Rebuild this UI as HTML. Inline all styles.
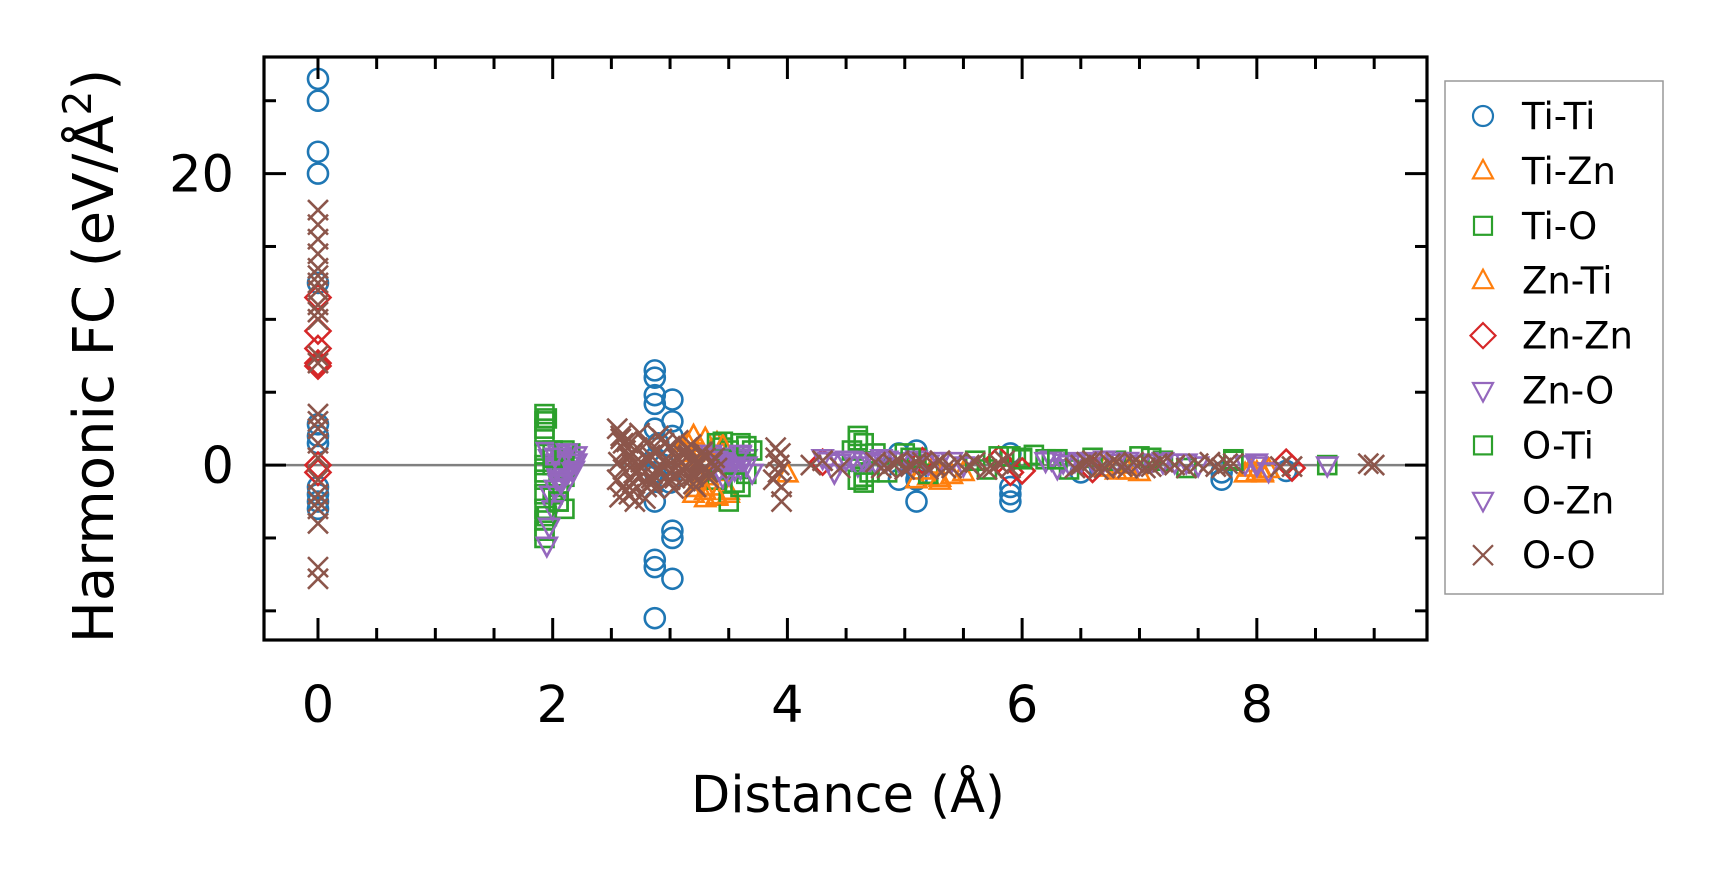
<!DOCTYPE html>
<html><head><meta charset="utf-8"><style>
html,body{margin:0;padding:0;background:#fff;}
svg{display:block;font-family:"DejaVu Sans","Liberation Sans",sans-serif;}
</style></head><body>
<svg id="chart" width="1722" height="883" viewBox="0 0 1722 883" xmlns="http://www.w3.org/2000/svg">
<rect width="1722" height="883" fill="#fff"/>
<g id="marks"></g>
<g id="axes"></g>
<text x="848" y="812" font-size="51" text-anchor="middle">Distance (Å)</text>
<text transform="translate(113,356) rotate(-90)" font-size="56" text-anchor="middle">Harmonic FC (eV/Å<tspan dy="-22" font-size="39">2</tspan><tspan dy="22">)</tspan></text>
<g id="legend"></g>
</svg>
<script>
const seriesNames=["Ti-Ti","Ti-Zn","Ti-O","Zn-Ti","Zn-Zn","Zn-O","O-Ti","O-Zn","O-O"];
const tiTiX=[0,0,0,0,0,0,0,0,0,0,0,0,2.87,2.87,2.87,2.87,2.87,2.87,2.87,2.87,2.87,2.87,2.87,3.02,3.02,3.02,3.02,3.02,3.02,4.95,4.95,5.1,5.1,5.1,5.9,5.9,5.9,5.9,6.5,7.7,7.7,8.25,2.9,3.0,2.95];
const tiTiY=[26.5,25,21.5,20,12.5,2.8,2,1.5,-1.5,-2,-2.5,-3,6.5,6,4.8,4.2,2.5,0.5,-0.5,-2.5,-6.5,-7,-10.5,4.5,3,2,-4.5,-5,-7.8,0.8,-1,1,-1,-2.5,0.8,-1.5,-2,-2.5,-0.5,-1,-0.5,-0.4,1.5,-1.2,0];
const tiZnX=[3.15,3.2,3.25,3.3,3.35,3.4,3.45,3.2,3.3,3.4,3.5,3.25,3.35,5.1,5.2,5.3,5.5,6.8,7.0,8.0,8.1,3.18,3.28,3.38,3.22,3.32,3.42,3.5,5.15,5.25,5.4,6.7,6.9,7.95,8.05];
const tiZnY=[1.5,2,1.2,1.8,1,1.5,0.8,-2,-2.3,-2.2,-1.8,-1,-1.5,-1,-0.8,-1.1,-0.5,-0.4,-0.5,-0.5,-0.3,0.5,0.2,-0.5,-1.6,-0.8,0.4,-2,-0.4,0,-0.7,-0.2,0,-0.2,-0.6];
const tiOX=[1.93,1.93,1.93,1.93,1.93,1.93,1.93,1.93,1.93,1.93,2.0,2.05,2.1,2.15,2.0,3.4,3.45,3.5,3.6,3.7,3.4,3.5,3.6,4.6,4.65,4.6,4.7,5.0,5.2,5.9,6.0,6.1,6.2,6.6,6.8,7.0,7.8,8.6,1.93,1.93,1.93,2.0,2.05,2.1,3.45,3.55,3.65,4.55,4.65,4.75,4.85,5.1,5.6,5.7,6.3,6.4,7.2,7.4];
const tiOY=[3.5,3,2.5,1,0,-1,-2,-3,-4.5,-5,1,-1.5,-3,0.8,-2,1.5,1.2,1,1.5,1,-1,-2.5,-1.5,2,1.5,-1,-0.5,0.8,-0.6,0.6,0.5,0.7,0.4,0.5,0.3,0.6,0.4,0,2,-0.5,-3.8,0,-2.5,-0.8,-0.3,0.2,-0.6,1,-0.8,0.8,-0.5,0.5,0.3,-0.3,0.4,-0.3,0.3,-0.2];
const znTiX=[3.1,3.2,3.3,3.4,3.45,4.0,5.3,5.4,6.9,7.9,8.05];
const znTiY=[1.2,0.8,-1.8,-2.1,1.3,-0.6,-0.9,-0.7,-0.4,-0.6,-0.5];
const znZnX=[0,0,0,0,0,0,0,4.3,5.15,5.9,6.6,8.25,8.3,5.8,6.0];
const znZnY=[11.5,9.2,8,7,6.8,0,-0.5,0.2,0.3,-0.5,-0.3,0.2,-0.2,0.4,-0.4];
const znOX=[1.95,1.97,2.0,2.02,2.05,2.08,2.1,2.12,2.15,2.18,2.2,1.98,2.0,2.05,1.95,2.1,3.35,3.4,3.5,3.55,3.6,3.65,3.7,3.45,3.55,4.3,4.4,4.5,4.6,4.7,5.1,5.3,5.5,6.2,6.3,6.5,6.7,7.0,7.3,7.5,8.0,8.1,8.6,
 2.0,2.03,2.07,2.1,2.13,2.16,2.19,2.05,2.12,2.02,2.08,3.4,3.45,3.5,3.55,3.6,3.65,3.42,3.52,3.62,4.35,4.45,4.55,4.65,4.75,4.85,4.95,5.05,5.2,5.4,6.25,6.35,6.45,6.6,6.8,6.9,7.1,7.2,7.4,7.9];
const znOY=[1,0.5,0,-0.5,0.8,0.3,-0.8,0.6,0,-0.3,0.7,-2,-3,-1,-5.5,-1.5,0.8,0.6,0.2,-0.3,0.7,0,-0.5,-0.8,0.5,0.5,-0.5,0.4,0,0.3,0.4,0.3,0,0.3,-0.2,0.2,0.4,0.1,0.2,0,0,-0.4,0,
 0.2,-0.2,0.5,0.1,-0.5,0.4,0.2,-1.2,-0.4,-1.6,0,0.4,0,0.6,0.3,-0.2,0.5,-0.3,0.1,0.2,0.3,0.2,0.4,0.3,0.2,0.4,0.3,0.2,0.1,0.3,0.4,0.2,0.3,0.3,0.2,0.3,0.2,0.3,0.2,0.1];
const oTiX=[1.95,1.95,2.0,2.05,2.1,3.45,3.55,3.65,4.6,4.65,5.05,5.8,6.0,6.3,7.1,7.8];
const oTiY=[3.2,-3.5,0.5,-2.5,1,1.6,-1.2,1.3,1.7,-1.2,0.5,0.6,0.4,0.4,0.5,0.3];
const oZnX=[1.97,2.02,2.07,2.12,2.17,2.2,3.4,3.5,3.6,4.5,4.8,6.4,6.9,7.2,8.0];
const oZnY=[-4.2,0.6,-1.2,0.9,-0.4,0.2,0.4,-0.6,0.8,0.4,0.5,0.1,0.3,0.2,0.2];
const oOX=[0,0,0,0,0,0,0,0,0,0,0,0,0,0,0,0,0,0,0,0,0,0,0,0,0,
 2.55,2.58,2.6,2.62,2.65,2.68,2.7,2.55,2.6,2.65,2.7,2.58,2.62,2.68,2.75,2.8,2.85,2.9,2.95,3.0,3.05,3.1,3.15,3.2,3.25,3.3,2.8,2.9,3.0,3.1,3.2,3.3,2.75,2.85,2.95,3.05,3.15,3.25,
 2.56,2.6,2.64,2.68,2.72,2.76,2.8,2.84,2.88,2.92,2.96,3.0,3.04,3.08,3.12,3.16,3.2,3.24,3.28,3.32,3.36,3.4,
 2.57,2.63,2.69,2.74,2.79,2.83,2.87,2.93,2.98,3.03,3.07,3.13,3.18,3.22,3.27,3.33,3.38,
 3.9,3.9,3.92,3.95,3.95,3.93,4.2,4.3,4.45,4.75,4.85,4.95,5.05,5.15,5.25,5.35,5.45,5.55,5.7,5.8,5.9,6.45,6.55,6.65,6.75,6.85,6.95,7.05,7.15,7.3,7.5,7.65,7.75,8.2,9.0,
 3.88,3.94,4.8,4.9,5.0,5.1,5.2,5.3,5.4,5.6,5.75,5.85,6.5,6.6,6.7,6.8,6.9,7.0,7.1,7.2,7.4,7.6,7.7,7.8,8.3,8.95];
const oOY=[17.5,16.5,15.5,14.5,13.5,13,12.5,12,11,10.5,10,7.5,7,3.5,3,2.5,1.5,0.5,-1,-2,-2.5,-3,-4,-7,-7.8,
 2.5,2,1.5,1,0.5,0,-0.5,-1,-1.5,-2,-2.5,1.8,-1.8,0.8,-0.8,1.5,-1.2,1,0.3,-0.5,0.5,-0.3,1.2,-0.8,0.2,-0.2,-1.5,2,-1,0.8,-1.3,0.5,0.2,-0.6,1.5,-0.2,0.6,0,
 0.2,-0.3,0.6,-1.2,1.2,-0.2,0.4,-0.9,0.9,-0.4,0.1,1.3,-0.9,0.4,-0.4,0.7,-0.6,0.3,0.9,-0.5,0.2,-0.2,
 -2.2,1.6,-1.8,2.2,-2.3,0.7,-1.6,1.8,-1.1,-1.6,1.7,-1.1,1.4,-1.5,0.9,-0.9,0.5,
 1.2,0.5,-0.5,-1.5,-2.5,0,0,0.3,-0.2,0.2,-0.2,0.3,-0.1,0.2,0,-0.2,0.2,0,-0.3,0.1,-0.2,-0.2,0.2,-0.3,0.1,-0.1,0.2,-0.2,0.1,0,0.1,-0.1,0.1,-0.1,0,
 -1,0.8,-0.2,0.1,-0.3,0.2,-0.3,0.3,-0.2,0.2,-0.2,0.3,0,0.3,-0.2,0.2,-0.2,0.1,-0.1,0.2,-0.2,0.2,-0.2,0.1,-0.1,0.1];
const xTicks=[0,2,4,6,8];
const yTicks=[0,20];
const X0=264,X1=1427,Y0=57,Y1=640,XMIN=-0.46,XMAX=9.45,YMIN=-12,YMAX=28;
const sx=v=>X0+(v-XMIN)/(XMAX-XMIN)*(X1-X0);
const sy=v=>Y1-(v-YMIN)/(YMAX-YMIN)*(Y1-Y0);
const NS="http://www.w3.org/2000/svg";
function mk(tag,attrs,parent){const e=document.createElementNS(NS,tag);for(const k in attrs)e.setAttribute(k,attrs[k]);parent.appendChild(e);return e;}
const C={blue:"#1f77b4",orange:"#ff7f0e",green:"#2ca02c",red:"#d62728",purple:"#9467bd",brown:"#8c564b"};
function marker(type,cx,cy,col,parent,s,w){
  s=s||10;let e;
  const st={fill:"none",stroke:col,"stroke-width":w||2.6};
  if(type==="o")e=mk("circle",Object.assign({cx:cx,cy:cy,r:s},st),parent);
  else if(type==="^")e=mk("polygon",Object.assign({points:`${cx},${cy-s*1.1} ${cx-s},${cy+s*0.75} ${cx+s},${cy+s*0.75}`},st),parent);
  else if(type==="v")e=mk("polygon",Object.assign({points:`${cx},${cy+s*1.1} ${cx-s},${cy-s*0.75} ${cx+s},${cy-s*0.75}`},st),parent);
  else if(type==="s")e=mk("rect",Object.assign({x:cx-s*0.9,y:cy-s*0.9,width:s*1.8,height:s*1.8},st),parent);
  else if(type==="D")e=mk("polygon",Object.assign({points:`${cx},${cy-s*1.25} ${cx+s*1.25},${cy} ${cx},${cy+s*1.25} ${cx-s*1.25},${cy}`},st),parent);
  else e=mk("path",Object.assign({d:`M${cx-s},${cy-s}L${cx+s},${cy+s}M${cx-s},${cy+s}L${cx+s},${cy-s}`},st),parent);
  return e;
}
const marks=document.getElementById("marks");
const zl=mk("line",{x1:X0,x2:X1,y1:sy(0),y2:sy(0),stroke:"#808080","stroke-width":2.5},marks);


const series=[[tiTiX,tiTiY,"o",C.blue],[tiZnX,tiZnY,"^",C.orange],[tiOX,tiOY,"s",C.green],[znTiX,znTiY,"^",C.orange],[znZnX,znZnY,"D",C.red],[znOX,znOY,"v",C.purple],[oTiX,oTiY,"s",C.green],[oZnX,oZnY,"v",C.purple],[oOX,oOY,"x",C.brown]];
series.forEach((s,i)=>{
  const g=mk("g",{},marks);
  
  
  s[0].forEach((x,j)=>{
    const m=marker(s[2],sx(x),sy(s[1][j]),s[3],g);
    
    
  });
});
const ax=document.getElementById("axes");
const frame=mk("rect",{x:X0,y:Y0,width:X1-X0,height:Y1-Y0,fill:"none",stroke:"#000","stroke-width":3.2},ax);


for(let v=0;v<=9.01;v+=0.5){
  const major=xTicks.includes(v);const L=major?22:12;const X=sx(v);
  mk("line",{x1:X,x2:X,y1:Y1,y2:Y1-L,stroke:"#000","stroke-width":3},ax);
  mk("line",{x1:X,x2:X,y1:Y0,y2:Y0+L,stroke:"#000","stroke-width":3},ax);
}
for(let v=-10;v<=25;v+=5){
  const major=yTicks.includes(v);const L=major?22:12;const Y=sy(v);
  mk("line",{x1:X0,x2:X0+L,y1:Y,y2:Y,stroke:"#000","stroke-width":3},ax);
  mk("line",{x1:X1,x2:X1-L,y1:Y,y2:Y,stroke:"#000","stroke-width":3},ax);
}
xTicks.forEach(v=>{
  const t=mk("text",{x:sx(v),y:722,"font-size":51,"text-anchor":"middle"},ax);
  t.textContent=v;
  
  
});
yTicks.forEach(v=>{
  const t=mk("text",{x:234,y:sy(v)+18,"font-size":51,"text-anchor":"end"},ax);
  t.textContent=v;
  
  
});
const lg=document.getElementById("legend");
mk("rect",{x:1445,y:81,width:218,height:513,fill:"#fff",stroke:"#999","stroke-width":1.5},lg);
series.forEach((s,i)=>{
  const y=116+i*54.9;
  const g=mk("g",{},lg);
  
  
  marker(s[2],1483,y,s[3],g,10,2.2);
  const t=mk("text",{x:1522,y:y+13,"font-size":37},g);
  t.textContent=seriesNames[i];
});
</script>
</body></html>
